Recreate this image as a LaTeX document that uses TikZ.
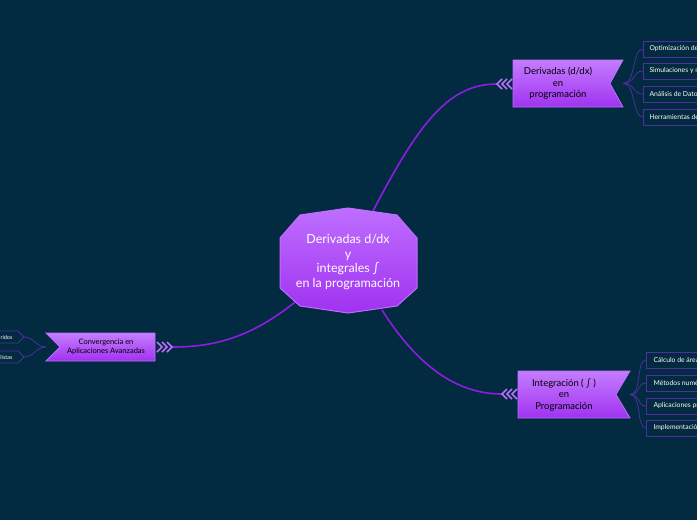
\documentclass[tikz,border=0pt]{standalone}
\usepackage{fontspec}
\setmainfont{Lato}
\definecolor{bg}{RGB}{2,42,64}
\definecolor{pur}{RGB}{160,50,240}
\definecolor{purl}{RGB}{190,110,255}
\definecolor{line}{RGB}{140,30,225}
\definecolor{kid}{RGB}{80,45,160}
\begin{document}
\begin{tikzpicture}[x=1pt,y=-1pt,
  main/.style={align=center,text=white,font=\fontsize{12.5}{14.5}\selectfont},
  branch/.style={align=center,text=black,font=\fontsize{9.5}{11.5}\selectfont},
  kidtxt/.style={anchor=west,text=white,font=\fontsize{6.8}{8}\selectfont},
  kidbox/.style={draw=kid,fill=bg,line width=0.8pt},
  conn/.style={draw=line,line width=1.6pt},
  fork/.style={draw=kid,line width=0.8pt},
  chev/.style={draw=purl,line width=1.5pt}]
\fill[bg] (0,0) rectangle (697,520);
\useasboundingbox (0,0) rectangle (697,520);
% connectors
\coordinate (ca) at (372,213); \coordinate (aa) at (497,84);
\coordinate (cb) at (382,310); \coordinate (ab) at (502,394);
\coordinate (cc) at (300,298); \coordinate (ac) at (172,347);
\draw[conn] (ca) .. controls (420,120) and (450,84) .. (aa);
\draw[conn] (cb) .. controls (420,370) and (460,394) .. (ab);
\draw[conn] (cc) .. controls (250,340) and (210,347) .. (ac);
% central
\shade[top color=purl,bottom color=pur,draw=purl,line width=1pt]
 (300,215)--(348,208)--(397,215)--(417,238)--(417,288)--(397,306)--(348,313)--(300,306)--(280,288)--(280,238)--cycle;
\node[main] (c) at (348,262) {Derivadas d/dx\\y\\integrales ∫\\en la programación};
% branch A
\shade[top color=purl!90,bottom color=pur,draw=purl,line width=0.8pt] (513,60)--(623,60)--(610,83.5)--(623,107)--(513,107)--cycle;
\node[branch] (a) at (558,83.5) {Derivadas (d/dx)\\en\\programación};
\foreach \dx in {0,5,10}{\draw[chev] (502+\dx,79)--(497+\dx,84)--(502+\dx,89);}
% branch B
\shade[top color=purl!90,bottom color=pur,draw=purl,line width=0.8pt] (518,371)--(630,371)--(616,394.5)--(630,418)--(518,418)--cycle;
\node[branch] (b) at (564,394.5) {Integración ( ∫ )\\en\\Programación};
\foreach \dx in {0,5,10}{\draw[chev] (507+\dx,389)--(502+\dx,394)--(507+\dx,399);}
% branch C
\shade[top color=purl!90,bottom color=pur,draw=purl,line width=0.8pt] (46,333)--(155,333)--(155,361)--(46,361)--(60,347)--cycle;
\node[branch,font=\fontsize{7.5}{9.5}\selectfont] (cv) at (106,347) {Convergencia en\\Aplicaciones Avanzadas};
\foreach \dx in {0,5,10}{\draw[chev] (157+\dx,342)--(162+\dx,347)--(157+\dx,352);}
% kids A
\foreach \y/\t [count=\i] in {49/Optimización de algoritmos,71/Simulaciones y modelado,94/Análisis de Datos,117/Herramientas de software}{
  \draw[fork] (623,83.5) .. controls (636,83.5) and (632,\y) .. (643,\y);
  \draw[kidbox] (643,\y-8) rectangle (760,\y+8);
  \node[kidtxt] (ka\i) at (646,\y) {\t};}
% kids B
\foreach \y/\t [count=\i] in {360/Cálculo de áreas,383/Métodos numéricos,406/Aplicaciones prácticas,428/Implementación}{
  \draw[fork] (630,394.5) .. controls (642,394.5) and (636,\y) .. (646,\y);
  \draw[kidbox] (646,\y-8) rectangle (760,\y+8);
  \node[kidtxt] (kb\i) at (650,\y) {\t};}
% kids C
\foreach \y/\t [count=\i] in {337/Métodos híbridos,357/Modelos realistas}{
  \draw[fork] (46,347) .. controls (36,347) and (34,\y) .. (24,\y);
  \draw[kidbox] (-80,\y-6)--(18,\y-6)--(24,\y)--(18,\y+6)--(-80,\y+6);
  \node[kidtxt,anchor=east,font=\fontsize{5.5}{6}\selectfont] (kc\i) at (16,\y) {\t};}
\end{tikzpicture}
\end{document}
